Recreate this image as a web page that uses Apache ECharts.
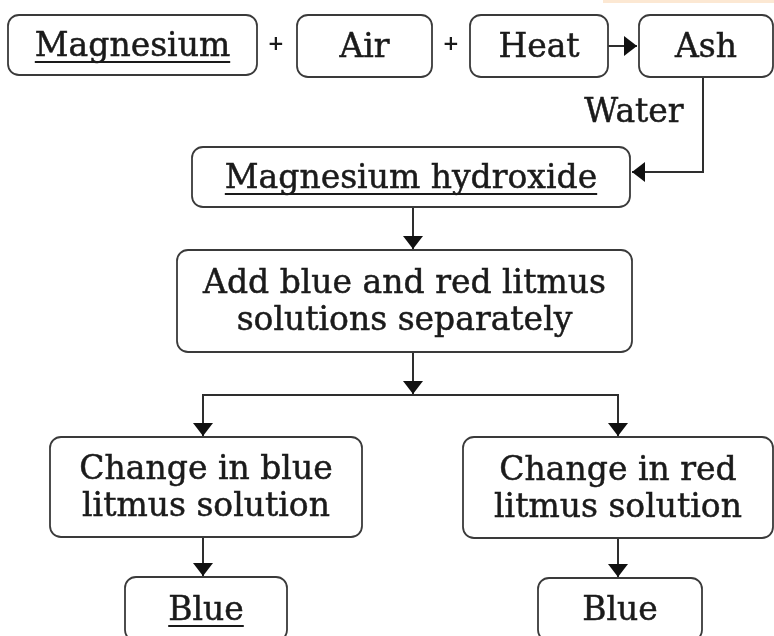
<!DOCTYPE html>
<html><head><meta charset="utf-8">
<script src="https://cdn.jsdelivr.net/npm/echarts@6/dist/echarts.min.js"></script>
<style>html,body{margin:0;padding:0;background:#fff}#c{width:774px;height:636px}</style>
</head><body><div id="c"></div><script>
// Flowchart content
const nodeLabels = ['Magnesium','Air','Heat','Ash','Magnesium hydroxide',
  'Add blue and red litmus\nsolutions separately',
  'Change in blue\nlitmus solution','Change in red\nlitmus solution','Blue','Blue'];
const nodeUnderlined = [true,false,false,false,true,false,false,false,true,false];
// Layout: [x0, y0, x1, y1] in pixel units of the 774x636 canvas
const nodeBoxes = [[8,15,257,75],[297,15,432,77],[470,15,608,77],[639,15,773,77],
  [192,147,630,207],[177,250,632,352],[50,437,362,537],[463,437,773,538],
  [125,577,287,641],[538,578,702,641]];
// Connector polylines, arrowhead at final point
const connectors = [
  [[608,46],[637,46]],
  [[703,77],[703,172],[632,172]],
  [[413,207],[413,249]],
  [[413,352],[413,394]],
  [[413,395],[203,395],[203,436]],
  [[413,395],[618,395],[618,436]],
  [[203,537],[203,576]],
  [[618,538],[618,577]]
];
const connectorHasArrow = [true,true,true,true,true,true,true,true];
const annotations = ['+','+','Water'];
const annotationPos = [[276,45],[451,45],[634,113]];

const FONT_FAMILY = '"DejaVu Serif", serif';
const FONT_SIZE = 33;
const FONT = FONT_SIZE + 'px ' + FONT_FAMILY;
const INK = '#1a1a1a';
const LINE = '#2e2e2e';
const measureCtx = document.createElement('canvas').getContext('2d');
measureCtx.font = FONT;

const chart = echarts.init(document.getElementById('c'), null, {renderer:'canvas'});

function arrowHead(tip, prev, len, half){
  const dx = tip[0]-prev[0], dy = tip[1]-prev[1];
  const L = Math.hypot(dx,dy) || 1;
  const ux = dx/L, uy = dy/L;
  const bx = tip[0]-ux*len, by = tip[1]-uy*len;
  return [[tip[0],tip[1]],[bx-uy*half, by+ux*half],[bx+uy*half, by-ux*half]];
}

const option = {
  animation:false,
  backgroundColor:'#fff',
  grid:{left:0,right:0,top:0,bottom:0},
  xAxis:{type:'value',min:0,max:774,show:false},
  yAxis:{type:'value',min:0,max:636,inverse:true,show:false},
  graphic:[{type:'rect',shape:{x:603,y:0,width:171,height:3},style:{fill:'#fce8d3'}}],
  series:[
    {
      type:'custom', coordinateSystem:'cartesian2d', clip:false,
      encode:{x:[0,2],y:[1,3]},
      data: connectors.map((c,i)=>[c[0][0],c[0][1],c[c.length-1][0],c[c.length-1][1],i]),
      renderItem(params, api){
        const i = params.dataIndex;
        const pts = connectors[i].map(p=>api.coord(p));
        const children = [{type:'polyline',shape:{points:pts},style:{stroke:LINE,lineWidth:2,fill:null}}];
        if (connectorHasArrow[i]) {
          const tip = pts[pts.length-1], prev = pts[pts.length-2];
          children.push({type:'polygon',shape:{points:arrowHead(tip,prev,13,10)},style:{fill:'#111'}});
        }
        return {type:'group',children};
      }
    },
    {
      type:'custom', coordinateSystem:'cartesian2d', clip:false,
      encode:{x:[0,2],y:[1,3]},
      data: nodeBoxes.map((b,i)=>[b[0],b[1],b[2],b[3],i]),
      renderItem(params, api){
        const i = params.dataIndex;
        const p0 = api.coord([api.value(0),api.value(1)]);
        const p1 = api.coord([api.value(2),api.value(3)]);
        const cx = (p0[0]+p1[0])/2, cy = (p0[1]+p1[1])/2;
        const children = [
          {type:'rect',shape:{x:p0[0],y:p0[1],width:p1[0]-p0[0],height:p1[1]-p0[1],r:11},
           style:{fill:'#fff',stroke:'#3a3a3a',lineWidth:1.8}},
          {type:'text',style:{text:nodeLabels[i],x:cx,y:cy+2,align:'center',verticalAlign:'middle',
            font:FONT,fill:INK,lineHeight:37,stroke:INK,lineWidth:0.5}}
        ];
        if (nodeUnderlined[i]) {
          const w = measureCtx.measureText(nodeLabels[i]).width;
          children.push({type:'line',shape:{x1:cx-w/2,y1:cy+17,x2:cx+w/2,y2:cy+17},style:{stroke:INK,lineWidth:1.8}});
        }
        return {type:'group',children};
      }
    },
    {
      type:'custom', coordinateSystem:'cartesian2d', clip:false,
      data: annotationPos.map((p,i)=>[p[0],p[1],i]),
      renderItem(params, api){
        const i = params.dataIndex;
        const p = api.coord([api.value(0),api.value(1)]);
        const isPlus = annotations[i] === '+';
        return {type:'text',style:{text:annotations[i],x:p[0],y:p[1],align:'center',verticalAlign:'middle',
          font:(isPlus?'bold 20px ':FONT_SIZE+'px ')+FONT_FAMILY,fill:INK,stroke:INK,lineWidth:isPlus?0:0.5}};
      }
    }
  ]
};
chart.setOption(option);
</script></body></html>
